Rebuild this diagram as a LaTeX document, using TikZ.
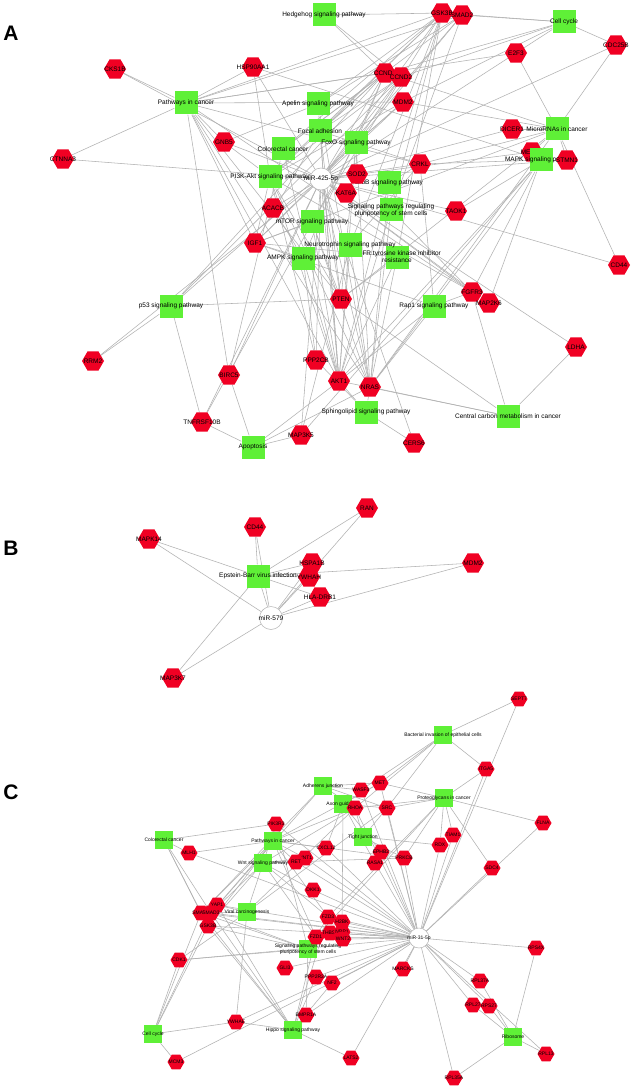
\documentclass[tikz,border=0pt]{standalone}
\usepackage{fontspec}
\setmainfont{Liberation Sans}
\usetikzlibrary{shapes.geometric}
\pgfdeclarelayer{bgfill}
\pgfdeclarelayer{edges}
\pgfsetlayers{bgfill,edges,main}
\definecolor{hred}{RGB}{240,0,35}
\definecolor{hgreen}{RGB}{95,240,55}
\definecolor{edgegray}{RGB}{178,178,178}
\tikzset{
 edge/.style={draw=edgegray,line width=0.55pt},
 hexA/.style={regular polygon,regular polygon sides=6,minimum size=22pt,inner sep=0pt,fill=hred},
 sqA/.style={rectangle,minimum size=23pt,inner sep=0pt,fill=hgreen},
 hexC/.style={regular polygon,regular polygon sides=6,minimum size=17pt,inner sep=0pt,fill=hred},
 sqC/.style={rectangle,minimum size=18pt,inner sep=0pt,fill=hgreen},
 mirA/.style={circle,minimum size=22pt,inner sep=0pt,fill=white,draw=edgegray,line width=0.5pt},
 mirC/.style={circle,minimum size=20pt,inner sep=0pt,fill=white,draw=edgegray,line width=0.5pt},
 labA/.style={font=\fontsize{6.5}{7}\selectfont,inner sep=0pt,align=center},
 labC/.style={font=\fontsize{5}{5.6}\selectfont,inner sep=0pt,align=center},
 panel/.style={font=\fontsize{21}{21}\selectfont\bfseries,inner sep=0pt},
}
\newcommand\gnA[3]{\node[hexA,label={[labA]center:{#3}}] (#1) at (#2) {};}
\newcommand\pwA[3]{\node[sqA,label={[labA]center:{#3}}] (#1) at (#2) {};}
\newcommand\gnC[3]{\node[hexC,label={[labC]center:{#3}}] (#1) at (#2) {};}
\newcommand\pwC[3]{\node[sqC,label={[labC]center:{#3}}] (#1) at (#2) {};}
\begin{document}
\begin{tikzpicture}[x=1pt,y=-1pt]
\useasboundingbox (0,0) rectangle (636,1091);
\begin{pgfonlayer}{bgfill}
\fill[white] (0,0) rectangle (636,1091);
\end{pgfonlayer}
% ================= Panel A =================
\node[panel] (lblA) at (11,33) {A};
\gnA{mhex}{532,152}{MECP2}
\pwA{hedge}{324,15}{Hedgehog signaling pathway}
\pwA{cellcyc}{564,22}{Cell cycle}
\pwA{pic}{186,103}{Pathways in cancer}
\pwA{apelin}{318,104}{Apelin signaling pathway}
\pwA{colo}{283,149}{Colorectal cancer}
\pwA{focal}{320,131}{Focal adhesion}
\pwA{foxo}{356,143}{FoxO signaling pathway}
\pwA{mirna}{557,129}{MicroRNAs in cancer}
\pwA{mapk}{541,160}{MAPK signaling pathway}
\pwA{pi3k}{270,177}{PI3K-Akt signaling pathway}
\pwA{erbb}{389,183}{ErbB signaling pathway}
\pwA{pluri}{391,210}{Signaling pathways regulating\\pluripotency of stem cells}
\pwA{egfr}{397,257}{EGFR tyrosine kinase inhibitor\\resistance}
\pwA{mtor}{312,222}{mTOR signaling pathway}
\pwA{neuro}{350,245}{Neurotrophin signaling pathway}
\pwA{ampk}{303,258}{AMPK signaling pathway}
\pwA{p53}{171,306}{p53 signaling pathway}
\pwA{rap1}{434,306}{Rap1 signaling pathway}
\pwA{sphingo}{366,412}{Sphingolipid signaling pathway}
\pwA{ccm}{508,416}{Central carbon metabolism in cancer}
\pwA{apop}{253,447}{Apoptosis}
\gnA{cks}{115,69}{CKS1B}
\gnA{hsp}{253,67}{HSP90AA1}
\gnA{gsk}{442,13}{GSK3B}
\gnA{smad}{462,15}{SMAD2}
\gnA{cdc}{616,45}{CDC25B}
\gnA{e2f}{516,53}{E2F3}
\gnA{ccnda}{385,73}{CCND1}
\gnA{ccndb}{401,77}{CCND2}
\gnA{mdm}{403,102}{MDM2}
\gnA{dicer}{512,129}{DICER1}
\gnA{stmn}{567,160}{STMN1}
\gnA{crkl}{420,164}{CRKL}
\gnA{taok}{456,211}{TAOK1}
\gnA{sod}{357,174}{SOD2}
\gnA{kat}{346,193}{KAT6A}
\gnA{gnb}{224,142}{GNB5}
\gnA{ctn}{63,159}{CTNNA3}
\gnA{acacb}{273,208}{ACACB}
\gnA{igf}{255,243}{IGF1}
\gnA{pten}{341,299}{PTEN}
\gnA{fgfr}{472,292}{FGFR3}
\gnA{mtwo}{489,303}{MAP2K6}
\gnA{cdfa}{619,265}{CD44}
\gnA{ldha}{576,347}{LDHA}
\gnA{ppp}{316,360}{PPP2CB}
\gnA{akt}{339,381}{AKT1}
\gnA{nras}{370,387}{NRAS}
\gnA{cers}{414,443}{CERS6}
\gnA{mthree}{301,435}{MAP3K5}
\gnA{tnf}{202,422}{TNFRSF10B}
\gnA{birc}{229,375}{BIRC5}
\gnA{rrm}{93,361}{RRM2}
\node[mirA,label={[labA]center:miR-425-5p}] (mirA) at (321,179) {};
% ================= Panel B =================
\node[panel] (lblB) at (11,548) {B};
\pwA{ebv}{258,576}{Epstein-Barr virus infection}
\gnA{ran}{367,508}{RAN}
\gnA{cdb}{255,527}{CD44}
\gnA{mapkf}{149,539}{MAPK14}
\gnA{hspa}{312,563}{HSPA1B}
\gnA{ywhah}{309,577}{YWHAH}
\gnA{hla}{320,597}{HLA-DRB1}
\gnA{mdmb}{473,563}{MDM2}
\gnA{mkseven}{173,678}{MAP3K7}
\node[mirA,minimum size=23pt,label={[labA]center:miR-579}] (mirB) at (271,618) {};
% ================= Panel C =================
\node[panel] (lblC) at (11,792) {C};
\pwC{bact}{443,735}{Bacterial invasion of epithelial cells}
\pwC{adh}{323,786}{Adherens junction}
\pwC{axon}{343,804}{Axon guidance}
\pwC{prot}{444,798}{Proteoglycans in cancer}
\pwC{tight}{363,837}{Tight junction}
\pwC{coloc}{164,840}{Colorectal cancer}
\pwC{picc}{273,841}{Pathways in cancer}
\pwC{wnt}{263,863}{Wnt signaling pathway}
\pwC{viral}{247,912}{Viral carcinogenesis}
\pwC{pluric}{308,949}{Signaling pathways regulating\\pluripotency of stem cells}
\pwC{cellc}{153,1034}{Cell cycle}
\pwC{hippo}{293,1030}{Hippo signaling pathway}
\pwC{ribo}{513,1037}{Ribosome}
\gnC{topc}{519,699}{SEPT7}
\gnC{itga}{486,769}{ITGA5}
\gnC{met}{380,783}{MET}
\gnC{wasf}{361,790}{WASF3}
\gnC{rhoa}{355,808}{RHOA}
\gnC{src}{387,808}{SRC}
\gnC{flna}{543,823}{FLNA}
\gnC{cxcl}{326,848}{CXCL12}
\gnC{tiam}{453,835}{TIAM1}
\gnC{rdx}{440,845}{RDX}
\gnC{ephb}{381,852}{EPHB2}
\gnC{rasa}{375,863}{RASA1}
\gnC{prkcb}{404,858}{PRKCB}
\gnC{sdc}{492,868}{SDC4}
\gnC{mlh}{189,853}{MLH1}
\gnC{pik}{276,824}{PIK3R3}
\gnC{wntone}{305,858}{WNT1}
\gnC{ret}{296,862}{RET}
\gnC{dkk}{313,890}{DKK1}
\gnC{smadb}{201,913}{SMAD2}
\gnC{yap}{217,905}{YAP1}
\gnC{smadc}{211,913}{SMAD3}
\gnC{gskc}{208,926}{GSK3B}
\gnC{fzdc}{328,917}{FZD3}
\gnC{htwo}{342,922}{H2BK}
\gnC{thbs}{330,933}{THBS1}
\gnC{nrp}{342,932}{NRP1}
\gnC{wnttwo}{343,939}{WNT2}
\gnC{fzda}{316,937}{FZD1}
\gnC{gli}{285,968}{GLI3}
\gnC{pptwo}{316,977}{PPP2R2A}
\gnC{nftwo}{332,983}{NF2}
\gnC{cdk}{179,960}{CDK1}
\gnC{mcm}{176,1062}{MCM3}
\gnC{ywhae}{236,1022}{YWHAE}
\gnC{bmpr}{306,1015}{BMPR1A}
\gnC{lats}{351,1058}{LATS2}
\gnC{marc}{403,969}{MARCKS}
\gnC{rps}{536,948}{RPS4X}
\gnC{rplta}{480,981}{RPL37A}
\gnC{rpltb}{473,1005}{RPL27}
\gnC{rpstb}{489,1006}{RPS27}
\gnC{rplth}{546,1054}{RPL13}
\gnC{rplfa}{454,1078}{RPL35A}
\node[mirC,label={[labC]center:miR-31-5p}] (mirC) at (419,938) {};
% ================= Edges =================
\begin{pgfonlayer}{edges}
% A: miRNA targets
\foreach \g in {cks,hsp,gsk,smad,cdc,e2f,ccnda,ccndb,mdm,dicer,mhex,stmn,crkl,taok,sod,kat,gnb,ctn,acacb,igf,pten,fgfr,mtwo,cdfa,ldha,ppp,akt,nras,cers,mthree,tnf,birc,rrm}
  \draw[edge] (mirA) -- (\g);
\foreach \g in {cks,hsp,gsk,smad,ccnda,mdm,e2f,crkl,ctn,gnb,igf,pten,fgfr,akt,nras,birc} \draw[edge] (pic) -- (\g);
\foreach \g in {gsk,ccnda,ccndb} \draw[edge] (hedge) -- (\g);
\foreach \g in {gsk,smad,e2f,ccnda,ccndb,mdm,cdc} \draw[edge] (cellcyc) -- (\g);
\foreach \g in {cdc,e2f,ccnda,mdm,dicer,stmn,cdfa,pten,nras,mhex,igf,crkl} \draw[edge] (mirna) -- (\g);
\foreach \g in {stmn,crkl,taok,fgfr,mtwo,akt,nras,mhex,mthree,hsp} \draw[edge] (mapk) -- (\g);
\foreach \g in {smad,akt,nras,gnb,gsk} \draw[edge] (apelin) -- (\g);
\foreach \g in {gsk,ccnda,ccndb,crkl,igf,pten,akt} \draw[edge] (focal) -- (\g);
\foreach \g in {gsk,ccnda,akt,smad,birc} \draw[edge] (colo) -- (\g);
\foreach \g in {ccnda,ccndb,mdm,sod,igf,pten,akt,nras,smad,tnf} \draw[edge] (foxo) -- (\g);
\foreach \g in {gsk,ccnda,ccndb,mdm,igf,pten,akt,nras,fgfr,hsp,ppp,gnb} \draw[edge] (pi3k) -- (\g);
\foreach \g in {gsk,crkl,akt,nras} \draw[edge] (erbb) -- (\g);
\foreach \g in {gsk,smad,akt,nras,fgfr} \draw[edge] (pluri) -- (\g);
\foreach \g in {gsk,igf,pten,akt,nras} \draw[edge] (mtor) -- (\g);
\foreach \g in {gsk,crkl,akt,nras,mthree} \draw[edge] (neuro) -- (\g);
\foreach \g in {ccnda,igf,akt,ppp,acacb} \draw[edge] (ampk) -- (\g);
\foreach \g in {gsk,akt,nras,pten,igf} \draw[edge] (egfr) -- (\g);
\foreach \g in {ccnda,ccndb,mdm,pten,tnf,rrm} \draw[edge] (p53) -- (\g);
\foreach \g in {crkl,igf,akt,nras,fgfr} \draw[edge] (rap1) -- (\g);
\foreach \g in {akt,nras,ppp,cers} \draw[edge] (sphingo) -- (\g);
\foreach \g in {akt,nras,pten,ldha,fgfr} \draw[edge] (ccm) -- (\g);
\foreach \g in {tnf,birc,akt,nras,mthree} \draw[edge] (apop) -- (\g);
% B
\foreach \g in {ran,cdb,mapkf,hspa,ywhah,hla,mdmb,mkseven} {\draw[edge] (ebv) -- (\g); \draw[edge] (mirB) -- (\g);}
\draw[edge] (ebv) -- (mirB);
% C: miRNA targets
\foreach \g in {topc,itga,met,wasf,rhoa,src,flna,cxcl,tiam,rdx,ephb,rasa,prkcb,sdc,mlh,pik,wntone,ret,dkk,smadb,yap,smadc,gskc,fzdc,htwo,thbs,nrp,wnttwo,fzda,gli,pptwo,nftwo,cdk,mcm,ywhae,bmpr,lats,marc,rps,rplta,rpltb,rpstb,rplth,rplfa}
  \draw[edge] (mirC) -- (\g);
\foreach \g in {topc,itga,met,src,rhoa,wasf} \draw[edge] (bact) -- (\g);
\foreach \g in {itga,met,src,rhoa,tiam,rdx,flna,sdc,prkcb,fzdc,fzda} \draw[edge] (prot) -- (\g);
\foreach \g in {met,src,rhoa,wasf,smadb,smadc} \draw[edge] (adh) -- (\g);
\foreach \g in {met,src,rhoa,cxcl,ephb,rasa,nrp} \draw[edge] (axon) -- (\g);
\foreach \g in {src,rhoa,rdx,prkcb} \draw[edge] (tight) -- (\g);
\foreach \g in {mlh,pik,gskc,smadc,smadb} \draw[edge] (coloc) -- (\g);
\foreach \g in {pik,met,gskc,smadb,smadc,rhoa,cxcl,ret,wntone,fzda,fzdc,mlh,prkcb} \draw[edge] (picc) -- (\g);
\foreach \g in {gskc,smadc,rhoa,prkcb,fzda,fzdc,dkk,wntone} \draw[edge] (wnt) -- (\g);
\foreach \g in {smadc,yap,src,pik,cdk,ywhae,rhoa} \draw[edge] (viral) -- (\g);
\foreach \g in {smadb,smadc,gskc,fzda,fzdc,bmpr,pik,cdk} \draw[edge] (pluric) -- (\g);
\foreach \g in {cdk,smadb,smadc,gskc,mcm,ywhae} \draw[edge] (cellc) -- (\g);
\foreach \g in {smadb,smadc,gskc,ywhae,bmpr,pptwo,nftwo,lats,fzda,fzdc,yap} \draw[edge] (hippo) -- (\g);
\foreach \g in {rps,rplta,rpltb,rpstb,rplth,rplfa} \draw[edge] (ribo) -- (\g);
\end{pgfonlayer}
\end{tikzpicture}
\end{document}
